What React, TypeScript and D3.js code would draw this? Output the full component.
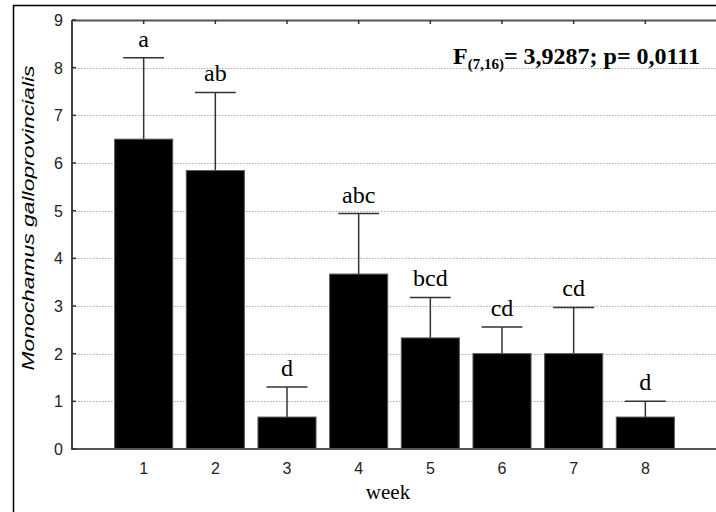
import React from 'react';
import * as d3 from 'd3';

// weeks, means and upper error bar ends
const weeks = [1, 2, 3, 4, 5, 6, 7, 8];
const means = [6.5, 5.84, 0.67, 3.67, 2.33, 2.0, 2.0, 0.67];
const errTops = [8.21, 7.48, 1.3, 4.94, 3.18, 2.56, 2.97, 1.0];
const groups = ['a', 'ab', 'd', 'abc', 'bcd', 'cd', 'cd', 'd'];
const yTicks = [0, 1, 2, 3, 4, 5, 6, 7, 8, 9];

const W = 716;
const H = 512;
const left = 72;
const right = 717;
const top = 20;
const bottom = 449;

const App: React.FC = () => {
  const x = d3.scaleLinear().domain([0, 9]).range([left, right]);
  const y = d3.scaleLinear().domain([0, 9]).range([bottom, top]);
  const barW = x(0.81) - x(0);
  const capW = x(0.57) - x(0);
  const sans = '"Liberation Sans", Arial, sans-serif';
  const serif = '"Liberation Serif", "Times New Roman", serif';

  return (
    <svg
      width={W}
      height={H}
      viewBox={`0 0 ${W} ${H}`}
      style={{ position: 'absolute', left: 0, top: 0, background: '#fff' }}
    >
      <rect x={13.5} y={5.5} width={W + 20} height={H + 20} fill="#fff" stroke="#000" strokeWidth={1.5} />

      {/* grid */}
      {yTicks.slice(1, -1).map((t) => (
        <line
          key={'g' + t}
          x1={left}
          x2={right}
          y1={Math.round(y(t)) + 0.5}
          y2={Math.round(y(t)) + 0.5}
          stroke="#aaa"
          strokeWidth={1}
          strokeDasharray="1.5,1.5"
        />
      ))}

      {/* error bars */}
      {weeks.map((w, i) => (
        <g key={'e' + w} stroke="#333" strokeWidth={1.5}>
          <line x1={x(w)} x2={x(w)} y1={y(means[i])} y2={y(errTops[i])} />
          <line x1={x(w) - capW / 2} x2={x(w) + capW / 2} y1={y(errTops[i])} y2={y(errTops[i])} />
        </g>
      ))}

      {/* bars */}
      {weeks.map((w, i) => (
        <rect
          key={'b' + w}
          x={x(w) - barW / 2}
          y={y(means[i])}
          width={barW}
          height={y(0) - y(means[i])}
          fill="#000"
          stroke="#555"
          strokeWidth={1}
        />
      ))}

      {/* group letters */}
      {weeks.map((w, i) => (
        <text
          key={'l' + w}
          x={x(w)}
          y={y(errTops[i]) - 11}
          textAnchor="middle"
          fontFamily={serif}
          fontSize={24}
          fill="#000"
        >
          {groups[i]}
        </text>
      ))}

      {/* frame */}
      <line x1={left} x2={right} y1={top + 0.5} y2={top + 0.5} stroke="#555" strokeWidth={2} />
      <line x1={left} x2={right} y1={bottom} y2={bottom} stroke="#555" strokeWidth={2} />
      <line x1={left} x2={left} y1={top} y2={bottom + 1} stroke="#444" strokeWidth={2} />

      {/* ticks */}
      {weeks.map((w) => (
        <line key={'tt' + w} x1={x(w)} x2={x(w)} y1={top} y2={top + 4} stroke="#333" strokeWidth={1.5} />
      ))}
      {yTicks.map((t) => (
        <line key={'yt' + t} x1={left} x2={left + 4} y1={y(t)} y2={y(t)} stroke="#333" strokeWidth={1.5} />
      ))}

      {/* tick labels */}
      {yTicks.map((t) => (
        <text
          key={'yl' + t}
          x={63}
          y={y(t) + 6}
          textAnchor="end"
          fontFamily={sans}
          fontSize={16}
          fill="#222"
        >
          {t}
        </text>
      ))}
      {weeks.map((w) => (
        <text
          key={'xl' + w}
          x={x(w)}
          y={474}
          textAnchor="middle"
          fontFamily={sans}
          fontSize={16}
          fill="#222"
        >
          {w}
        </text>
      ))}

      <text x={388} y={499} textAnchor="middle" fontFamily={serif} fontSize={21} fill="#000">
        week
      </text>
      <text
        transform="translate(34,218) rotate(-90)"
        textAnchor="middle"
        fontFamily={sans}
        fontStyle="italic"
        fontSize={16}
        textLength={305}
        lengthAdjust="spacingAndGlyphs"
        fill="#000"
      >
        Monochamus galloprovincialis
      </text>

      <text x={453} y={64} fontFamily={serif} fontWeight="bold" fontSize={24} fill="#000">
        F
        <tspan fontSize={15} dy={5}>(7,16)</tspan>
        <tspan dy={-5}>= 3,9287; p= 0,0111</tspan>
      </text>
    </svg>
  );
};

export default App;
